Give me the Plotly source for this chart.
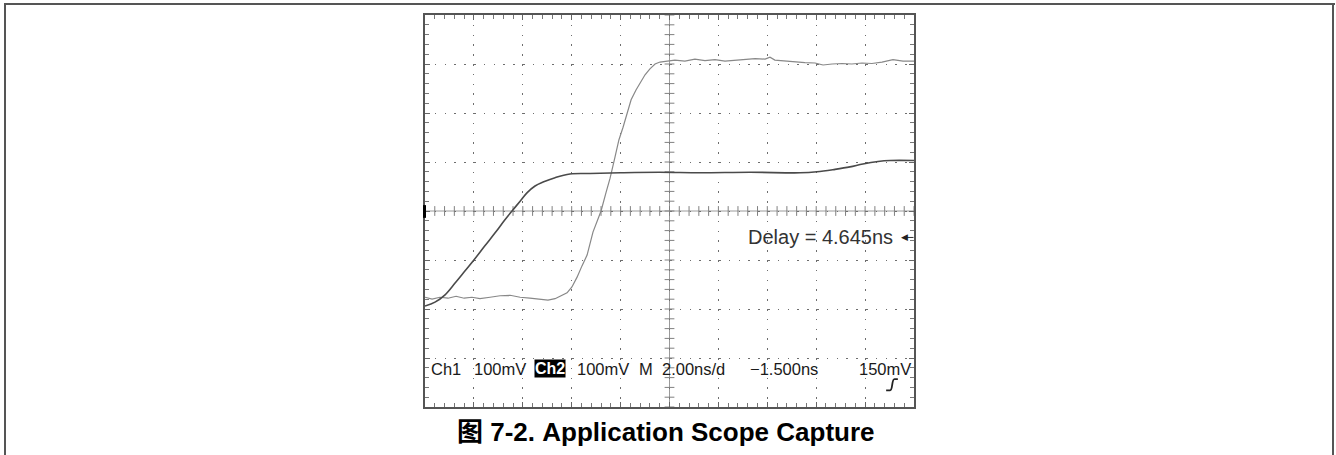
import numpy as np
import plotly.graph_objects as go

# ---- data (time in ns, amplitude in mV relative to screen centre) ----
ch1_t = [0.00, 0.41, 0.82, 1.23, 1.64, 2.00, 2.45, 2.86, 3.27, 3.56, 3.89, 4.17, 4.50, 4.83,
         5.32, 5.93, 6.75, 8.00, 9.60, 11.25, 13.30, 15.34, 16.03, 16.77, 17.38, 17.91,
         18.53, 19.02, 20.00]
ch1_mv = [-194, -186, -171, -147, -122, -100, -71, -45, -18, 0, 20, 37, 51, 59,
          68, 75.5, 76.5, 78, 79, 78, 79, 78, 80, 85, 90, 96,
          101, 103, 103]

ch2_t = [0.00, 0.29, 0.61, 0.94, 1.27, 1.60, 1.92, 2.25, 2.66, 3.07,
         3.48, 3.89, 4.29, 4.70, 5.03, 5.32, 5.60, 5.81, 6.01, 6.22,
         6.42, 6.63, 6.87, 7.03, 7.20, 7.40, 7.57, 7.77, 7.93, 8.10,
         8.26, 8.43, 8.63, 8.79, 9.00, 9.20, 9.41, 9.61, 9.90, 10.22,
         10.63, 11.04, 11.45, 11.86, 12.27, 12.68, 13.09, 13.50, 13.91, 14.11,
         14.31, 14.72, 15.13, 15.54, 15.95, 16.28, 16.65, 17.06, 17.46, 17.87,
         18.28, 18.69, 19.14, 19.55, 20.00]
ch2_mv = [-176, -180, -176, -178, -174, -178, -176, -179, -176, -173,
          -172, -176, -178, -181, -182, -179, -173, -167, -155, -135,
          -112, -90, -43, -22, 0, 37, 67, 110, 145, 171,
          198, 227, 247, 261, 278, 290, 300, 304, 306, 308,
          306, 310, 307, 309, 306, 308, 310, 311, 310, 314,
          308, 306, 304, 303, 302, 298, 300, 301, 300, 302,
          301, 304, 309, 306, 306]

status_labels = ["Ch1", "100mV", "Ch2", "100mV", "M", "2.00ns/d", "\u22121.500ns", "150mV"]
status_x = [0.16, 1.92, 4.45, 6.13, 8.67, 9.61, 13.21, 17.67]
delay_label = "Delay = 4.645ns"
caption = "\u56fe 7-2. Application Scope Capture"

W, H = 1336, 455
L, R, T, B = 425, 914, 15, 407
pw, ph = R - L, B - T

def px(x):
    return (x - L) / pw

def py(y):
    return (B - y) / ph

fig = go.Figure()

# centre graticule ticks
xt = np.arange(0, 20.001, 0.4)
yt = np.arange(-400, 400.001, 20)
fig.add_trace(go.Scatter(x=xt, y=np.zeros_like(xt), mode="markers",
                         marker=dict(symbol="line-ns", size=7, line=dict(width=1, color="#808080")),
                         hoverinfo="skip", showlegend=False))
fig.add_trace(go.Scatter(x=np.full_like(yt, 10.0), y=yt, mode="markers",
                         marker=dict(symbol="line-ew", size=7, line=dict(width=1, color="#808080")),
                         hoverinfo="skip", showlegend=False))

fig.add_trace(go.Scatter(x=ch2_t, y=ch2_mv, mode="lines",
                         line=dict(color="#888888", width=1.2),
                         hoverinfo="skip", showlegend=False))
fig.add_trace(go.Scatter(x=ch1_t, y=ch1_mv, mode="lines", line_shape="spline",
                         line=dict(color="#4a4a4a", width=1.6),
                         hoverinfo="skip", showlegend=False))

shapes = [
    # centre crosshair
    dict(type="line", xref="x", yref="y", x0=0, x1=20, y0=0, y1=0,
         line=dict(color="#9a9a9a", width=1), layer="below"),
    dict(type="line", xref="x", yref="y", x0=10, x1=10, y0=-400, y1=400,
         line=dict(color="#9a9a9a", width=1), layer="below"),
    # ground marker
    dict(type="rect", xref="paper", yref="y", x0=px(423), x1=px(426), y0=-14, y1=12,
         fillcolor="black", line=dict(width=0)),
    # trigger slope symbol
    dict(type="path", xref="x", yref="y",
         path="M 18.86,-366 L 19.02,-366 C 19.14,-366 19.08,-343 19.20,-343 L 19.34,-343",
         line=dict(color="#222", width=1.8)),
    # arrow tail
    dict(type="line", xref="x", yref="y", x0=19.62, x1=19.98, y0=-54, y1=-54,
         line=dict(color="#333", width=1)),
    # outer page border (left, top, right)
    dict(type="line", xref="paper", yref="paper", x0=px(5), x1=px(5), y0=py(456), y1=py(4),
         line=dict(color="#555", width=2)),
    dict(type="line", xref="paper", yref="paper", x0=px(4), x1=px(1335), y0=py(4), y1=py(4),
         line=dict(color="#555", width=2)),
    dict(type="line", xref="paper", yref="paper", x0=px(1333), x1=px(1333), y0=py(456), y1=py(4),
         line=dict(color="#555", width=2)),
]

ann = []
for lab, x in zip(status_labels, status_x):
    if lab == "Ch2":
        ann.append(dict(x=x, y=-322, xref="x", yref="y", text="<b>Ch2</b>", showarrow=False,
                        xanchor="left", yanchor="middle", bgcolor="black", borderpad=0,
                        font=dict(family="Liberation Sans", size=16, color="white")))
    else:
        ann.append(dict(x=x, y=-322, xref="x", yref="y", text=lab, showarrow=False,
                        xanchor="left", yanchor="middle",
                        font=dict(family="Liberation Sans", size=16.5, color="#1a1a1a")))
ann.append(dict(x=13.13, y=-54, xref="x", yref="y", text=delay_label, showarrow=False,
                xanchor="left", yanchor="middle",
                font=dict(family="Liberation Sans", size=20, color="#333")))
ann.append(dict(x=19.62, y=-54, xref="x", yref="y", text="\u25c0", showarrow=False,
                xanchor="center", yanchor="middle",
                font=dict(family="DejaVu Sans", size=9, color="#222")))
ann.append(dict(x=px(666), y=py(432), xref="paper", yref="paper", text="<b>" + caption + "</b>",
                showarrow=False, xanchor="center", yanchor="middle",
                font=dict(family="Liberation Sans, Noto Sans CJK SC", size=26, color="black")))

axis_common = dict(showline=True, linecolor="#555", linewidth=1.5, mirror="ticks",
                   ticks="inside", ticklen=5, tickcolor="#666", tickwidth=1,
                   showticklabels=False, zeroline=False,
                   showgrid=True, gridcolor="#6e6e6e", gridwidth=1, griddash="1.5px,8.3px")

fig.update_layout(
    width=W, height=H, autosize=False,
    margin=dict(l=L, r=W - R, t=T, b=H - B),
    paper_bgcolor="white", plot_bgcolor="white",
    xaxis=dict(range=[0, 20], dtick=2, tick0=0,
               minor=dict(dtick=0.4, ticks="inside", ticklen=4, tickcolor="#777", showgrid=False),
               **axis_common),
    yaxis=dict(range=[-400, 400], dtick=100, tick0=0,
               minor=dict(dtick=20, ticks="inside", ticklen=4, tickcolor="#777", showgrid=False),
               **axis_common),
    shapes=shapes, annotations=ann, showlegend=False,
)

fig.write_html("out.html", config={"displayModeBar": False},
               post_script="document.body.style.margin='0';document.body.style.overflow='hidden';")
